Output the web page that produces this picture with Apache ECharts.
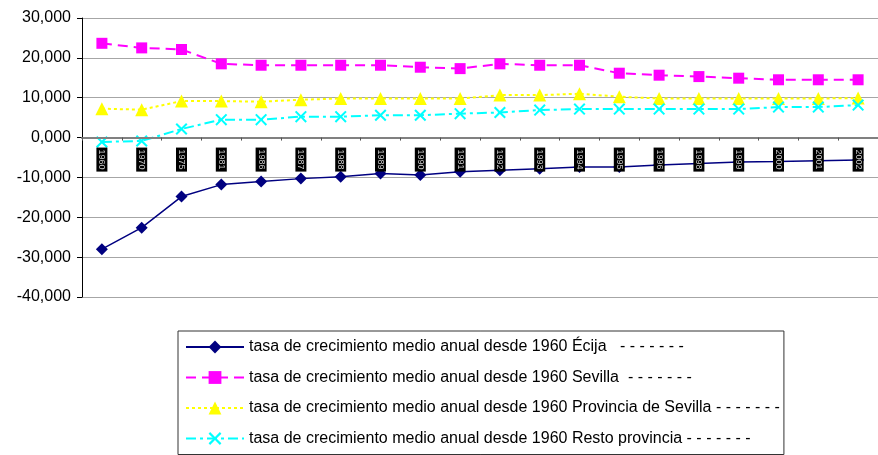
<!DOCTYPE html>
<html>
<head>
<meta charset="utf-8">
<script src="https://cdn.jsdelivr.net/npm/echarts@6/dist/echarts.min.js"></script>
<style>html,body{margin:0;padding:0;background:#fff}#c{width:878px;height:455px}</style>
</head>
<body>
<div id="c"></div>
<script>
var categories = ['1960','1970','1975','1981','1986','1987','1988','1989','1990','1991','1992','1993','1994','1995','1996','1998','1999','2000','2001','2002'];
var ecija = [-28.0,-22.6,-14.8,-11.8,-11.0,-10.3,-9.8,-9.0,-9.4,-8.6,-8.2,-7.8,-7.4,-7.4,-6.9,-6.5,-6.1,-6.0,-5.8,-5.6];
var sevilla = [23.65,22.5,22.1,18.5,18.15,18.15,18.15,18.15,17.65,17.3,18.5,18.15,18.15,16.15,15.65,15.3,14.9,14.5,14.5,14.5];
var provincia = [7.25,7.0,9.15,9.15,9.0,9.5,9.8,9.8,9.8,9.8,10.65,10.65,11.0,10.25,9.8,9.8,9.8,9.8,9.8,9.9];
var resto = [-1.1,-0.85,2.15,4.5,4.5,5.25,5.25,5.6,5.6,6.0,6.3,6.9,7.15,7.15,7.15,7.15,7.15,7.65,7.65,8.15];
var seriesNames = [
  'tasa de crecimiento medio anual desde 1960 Écija',
  'tasa de crecimiento medio anual desde 1960 Sevilla',
  'tasa de crecimiento medio anual desde 1960 Provincia de Sevilla',
  'tasa de crecimiento medio anual desde 1960 Resto provincia'
];
var legendSuffixes = [
  '\u00a0\u00a0\u00a0- - - - - - -',
  '\u00a0\u00a0- - - - - - -',
  '\u00a0- - - - - - -',
  '\u00a0- - - - - - -'
];
var yTicks = {min: -40, max: 30, interval: 10};

var W = 878, H = 455, gridTop = 18, gridBottom = 158;
var gridH = H - gridTop - gridBottom;
var zeroOffset = -gridH * (0 - yTicks.min) / (yTicks.max - yTicks.min);

var xPath = 'path://M0,1.2L1.2,0L5,3.8L8.8,0L10,1.2L6.2,5L10,8.8L8.8,10L5,6.2L1.2,10L0,8.8L3.8,5Z';
var chart = echarts.init(document.getElementById('c'), null, {renderer: 'canvas'});
var font = 'Liberation Sans, Arial, sans-serif';
chart.setOption({
  animation: false,
  backgroundColor: '#fff',
  grid: {left: 82, top: gridTop, right: -4, bottom: gridBottom, containLabel: false},
  xAxis: {
    type: 'category', data: categories, boundaryGap: true, z: 5,
    offset: zeroOffset,
    axisLine: {onZero: false, lineStyle: {color: '#808080', width: 2}},
    axisTick: {show: true, length: 3, lineStyle: {color: '#555'}},
    axisLabel: {
      interval: 0, rotate: -90, margin: 10, fontSize: 9, fontFamily: font,
      color: '#c8c8c8', backgroundColor: '#000', padding: [1, 2, 1, 2]
    }
  },
  yAxis: {
    type: 'value', min: yTicks.min, max: yTicks.max, interval: yTicks.interval,
    axisLine: {show: true, lineStyle: {color: '#000'}},
    axisTick: {show: true, length: 5, lineStyle: {color: '#000'}},
    axisLabel: {
      fontSize: 16, fontFamily: font, color: '#000', margin: 11,
      formatter: function (v) { return v.toFixed(3).replace('.', ','); }
    },
    splitLine: {lineStyle: {color: '#a6a6a6', width: 1.2}}
  },
  legend: {
    orient: 'vertical', left: 178, top: 331,
    itemWidth: 58, itemHeight: 16, itemGap: 14.5,
    padding: [8, 4, 8, 7],
    borderColor: '#333', borderWidth: 1,
    textStyle: {fontSize: 16, fontFamily: font, color: '#000'},
    formatter: function (n) { return n + legendSuffixes[seriesNames.indexOf(n)]; },
    data: seriesNames
  },
  series: [
    {name: seriesNames[0], type: 'line', data: ecija, symbol: 'diamond', symbolSize: 12,
     lineStyle: {color: '#000080', width: 1.5}, itemStyle: {color: '#000080'}},
    {name: seriesNames[1], type: 'line', data: sevilla, symbol: 'rect', symbolSize: 11,
     lineStyle: {color: '#ff00ff', width: 2, type: [10, 6]}, itemStyle: {color: '#ff00ff'}},
    {name: seriesNames[2], type: 'line', data: provincia, symbol: 'triangle', symbolSize: 13,
     lineStyle: {color: '#ffff00', width: 2, type: [3, 3]}, itemStyle: {color: '#ffff00'}},
    {name: seriesNames[3], type: 'line', data: resto, symbol: xPath, symbolSize: 12,
     lineStyle: {color: '#00ffff', width: 2, type: [10, 4, 3, 4]}, itemStyle: {color: '#00ffff'}}
  ]
});
</script>
</body>
</html>
